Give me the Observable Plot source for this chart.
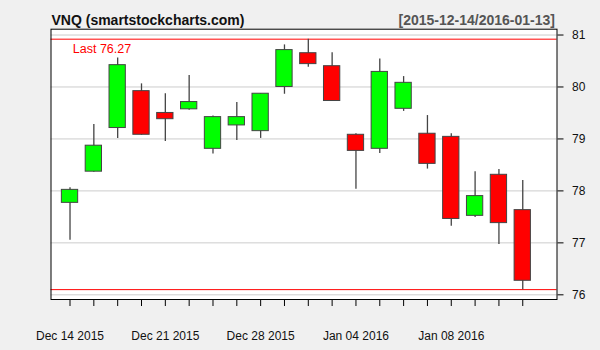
<!DOCTYPE html>
<html>
<head>
<meta charset="utf-8">
<script src="https://cdn.jsdelivr.net/npm/d3@7"></script>
<script src="https://cdn.jsdelivr.net/npm/@observablehq/plot@0.6"></script>
<style>
  html, body { margin: 0; padding: 0; background: #f0f0f0; }
  #chart svg { display: block; }
</style>
</head>
<body>
<div id="chart"></div>
<script>
const dates = ["2015-12-14","2015-12-15","2015-12-16","2015-12-17","2015-12-21","2015-12-22","2015-12-23","2015-12-24","2015-12-28","2015-12-29","2015-12-30","2015-12-31","2016-01-04","2016-01-05","2016-01-06","2016-01-07","2016-01-08","2016-01-11","2016-01-12","2016-01-13"];
const open  = [77.77,78.37,79.21,79.92,79.50,79.57,78.81,79.26,79.15,80.00,80.65,80.40,79.08,78.81,79.58,79.10,79.04,77.52,78.31,77.63];
const high  = [78.06,79.28,80.56,80.06,79.87,80.22,79.44,79.70,79.87,80.81,80.92,80.66,79.10,80.54,80.20,79.45,79.10,78.37,78.41,78.20];
const low   = [77.05,78.36,79.01,79.07,78.95,79.55,78.71,78.97,79.01,79.86,80.38,79.73,78.03,78.72,79.53,78.42,77.32,77.49,76.97,76.10];
const close = [78.02,78.87,80.42,79.08,79.38,79.71,79.42,79.42,79.87,80.71,80.44,79.73,78.77,80.29,80.08,78.52,77.46,77.90,77.38,76.27];

const labelDates = ["2015-12-14","2015-12-21","2015-12-28","2016-01-04","2016-01-08"];
const labelTexts = ["Dec 14 2015","Dec 21 2015","Dec 28 2015","Jan 04 2016","Jan 08 2016"];
const yTicks = [76, 77, 78, 79, 80, 81];
const title = "VNQ (smartstockcharts.com)";
const rangeText = "[2015-12-14/2016-01-13]";

const data = dates.map((d, i) => ({
  date: d, open: open[i], high: high[i], low: low[i], close: close[i],
  lo: Math.min(open[i], close[i]), hi: Math.max(open[i], close[i]),
  up: close[i] >= open[i]
}));
const maxHigh = d3.max(high);
const minLow = d3.min(low);
const last = close[close.length - 1];
const labelMap = new Map(labelDates.map((d, i) => [d, labelTexts[i]]));

const font = "'Liberation Sans', Arial, sans-serif";

const chart = Plot.plot({
  width: 600,
  height: 350,
  marginLeft: 50.5,
  marginRight: 43.5,
  marginTop: 28.7,
  marginBottom: 51,
  style: { background: "#f0f0f0", fontFamily: font, color: "#000", overflow: "visible" },
  x: { type: "band", domain: dates, paddingInner: 0.316, paddingOuter: 0.7755, align: 0.294, round: false, label: null },
  y: { domain: [75.91, 81.112], label: null },
  marks: [
    Plot.frame({ fill: "white", stroke: null }),
    Plot.gridY(yTicks, { stroke: "#cccccc", strokeOpacity: 1, strokeWidth: 1 }),
    Plot.ruleY([maxHigh, minLow], { stroke: "#ff0000", strokeWidth: 1 }),
    Plot.ruleX(data, { x: "date", y1: "low", y2: "high", stroke: "#444444", strokeWidth: 1.3 }),
    Plot.barY(data, { x: "date", y1: "lo", y2: "hi", fill: d => d.up ? "#00ff00" : "#ff0000", stroke: "#444444", strokeWidth: 1, inset: 0 }),
    Plot.frame({ stroke: "#000", strokeWidth: 1 }),
    Plot.axisX({ ticks: dates, tickSize: 7, tickFormat: () => "", stroke: "#000", strokeOpacity: 1, label: null }),
    Plot.axisX({ ticks: labelDates, tickSize: 0, tickPadding: 32, tickFormat: d => labelMap.get(d), fontSize: 12, fill: "#111", label: null }),
    Plot.axisY({ anchor: "right", ticks: yTicks, tickSize: 6, tickPadding: 9, tickFormat: d => String(d), fontSize: 12, fill: "#111", strokeOpacity: 1, label: null }),
    Plot.text([`Last ${last}`], { frameAnchor: "top-left", dx: 21.8, dy: 14.6, textAnchor: "start", fill: "#ff0000", fontSize: 12.5 }),
    Plot.text([title], { frameAnchor: "top-left", dx: 0.5, dy: -13.8, textAnchor: "start", fill: "#111", fontSize: 14, fontWeight: "bold" }),
    Plot.text([rangeText], { frameAnchor: "top-right", dx: -2, dy: -13.8, textAnchor: "end", fill: "#555555", fontSize: 14, fontWeight: "bold" })
  ]
});
document.getElementById("chart").append(chart);
</script>
</body>
</html>
